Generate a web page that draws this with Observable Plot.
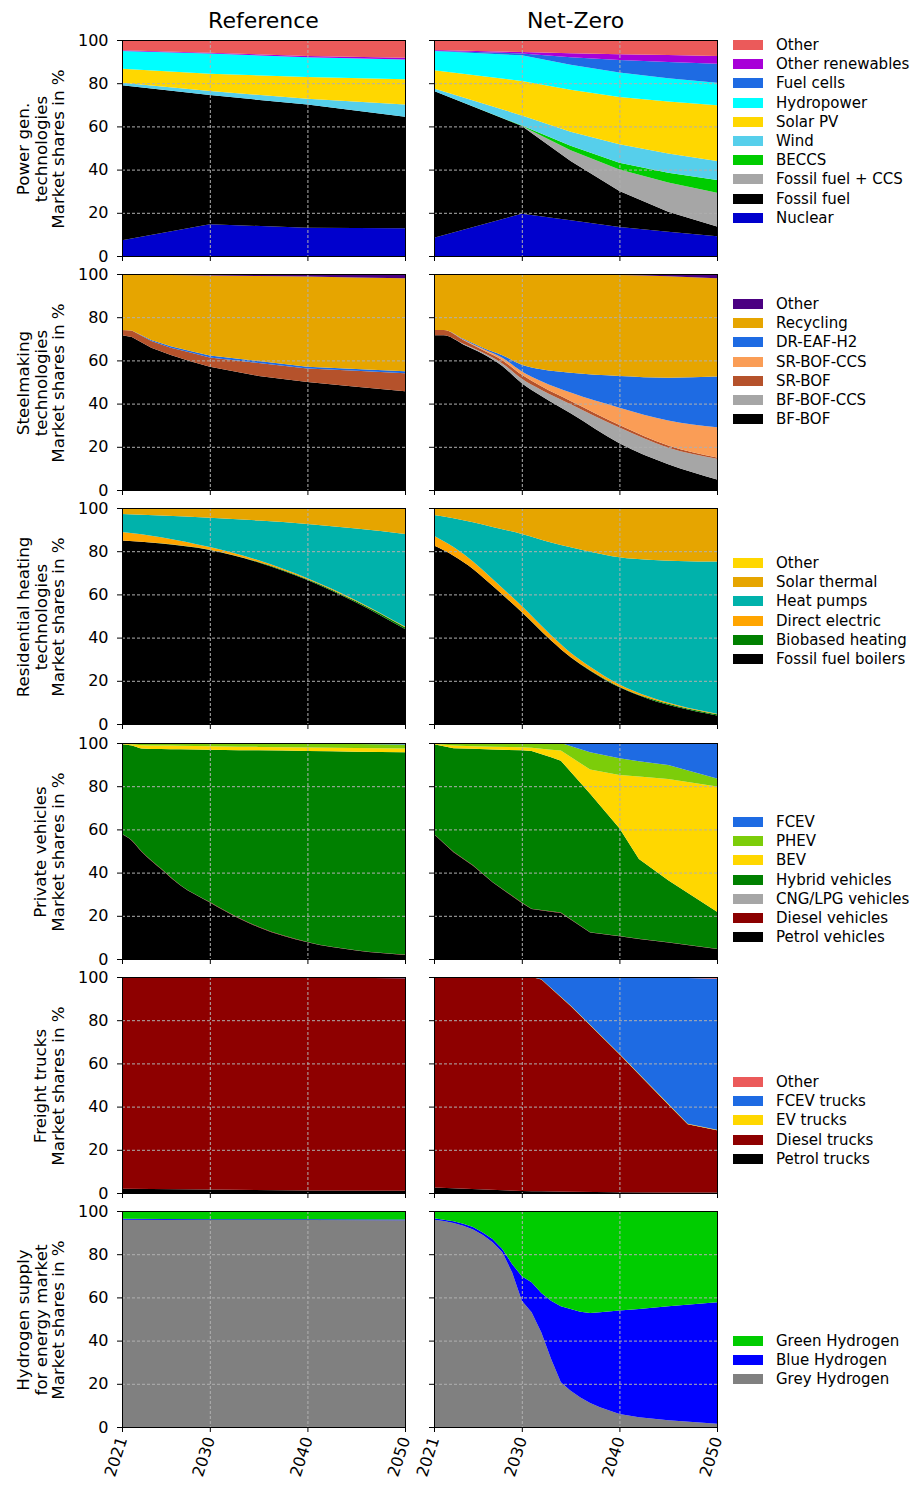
<!DOCTYPE html>
<html>
<head>
<meta charset="utf-8">
<script src="https://cdn.jsdelivr.net/npm/d3@7"></script>
<script src="https://cdn.jsdelivr.net/npm/@observablehq/plot@0.6"></script>
<style>
  body { margin: 0; background: #fff; font-family: "DejaVu Sans", sans-serif; }
  #fig { position: relative; width: 916px; height: 1486px; overflow: hidden; background: #fff; }
  .abs { position: absolute; }
  .title { position: absolute; font-size: 22px; line-height: 22px; width: 300px; text-align: center; color: #000; }
  .ylab { position: absolute; font-size: 16.7px; line-height: 17.5px; text-align: center; white-space: nowrap; color: #000;
          transform: translate(-50%, -50%) rotate(-90deg); }
  .sw { position: absolute; width: 30px; height: 10px; }
  .lt { position: absolute; font-size: 15px; line-height: 18px; white-space: nowrap; color: #000; }
</style>
</head>
<body>
<div id="fig"></div>
<script>
// ---------------- DATA ----------------
const xTicks = [2021, 2030, 2040, 2050];
const yTicks = [0, 20, 40, 60, 80, 100];
const scenarioTitles = ["Reference", "Net-Zero"];

// Power generation (stack order bottom -> top)
const powerCats = ["Nuclear", "Fossil fuel", "Fossil fuel + CCS", "BECCS", "Wind", "Solar PV", "Hydropower", "Fuel cells", "Other renewables", "Other"];
const powerColors = ["#0000cd", "#000000", "#a6a6a6", "#00cc00", "#56cfeb", "#ffd700", "#00ffff", "#1e6be3", "#a800d8", "#eb5a5a"];
const powerRefYears = [2021, 2030, 2040, 2050];
const powerRefValues = [
  [7.3, 14.7, 13.1, 12.8],
  [71.7, 59.8, 57.0, 51.7],
  [0, 0, 0, 0],
  [0, 0, 0, 0],
  [1.2, 1.9, 2.7, 5.6],
  [6.5, 8.0, 10.1, 11.7],
  [8.2, 9.4, 9.1, 9.2],
  [0, 0, 0, 0],
  [0.3, 0.3, 0.6, 0.8],
  [4.8, 5.9, 7.4, 8.2]
];
const powerNzYears = [2021, 2030, 2035, 2040, 2045, 2050];
const powerNzValues = [
  [8.5, 19.6, 16.5, 13.4, 11.2, 9.1],
  [67.9, 40.6, 27.5, 16.7, 9.3, 4.5],
  [0, 0, 5.0, 10.0, 13.5, 15.7],
  [0, 0.2, 2.0, 3.1, 4.5, 5.9],
  [1.1, 4.7, 6.5, 8.5, 9.0, 8.8],
  [8.5, 15.9, 19.5, 21.9, 24.0, 25.8],
  [8.9, 11.9, 11.5, 11.3, 10.8, 10.4],
  [0.1, 0.9, 3.5, 5.8, 7.5, 8.8],
  [0.4, 0.6, 1.9, 2.7, 3.2, 3.6],
  [4.6, 5.6, 6.1, 6.6, 7.0, 7.4]
];

// Steelmaking
const steelCats = ["BF-BOF", "BF-BOF-CCS", "SR-BOF", "SR-BOF-CCS", "DR-EAF-H2", "Recycling", "Other"];
const steelColors = ["#000000", "#a6a6a6", "#b5522b", "#fa9d56", "#1e6be3", "#e6a500", "#4b0082"];
const steelRefYears = [2021, 2022, 2024, 2026, 2028, 2030, 2035, 2040, 2045, 2050];
const steelRefValues = [
  [71.6, 70.8, 65.9, 62.5, 59.6, 57.1, 52.8, 50.0, 47.8, 45.7],
  [0, 0, 0, 0, 0, 0, 0, 0, 0, 0],
  [2.5, 3.1, 3.1, 3.4, 4.0, 4.3, 6.0, 6.3, 7.4, 8.3],
  [0, 0, 0, 0, 0, 0, 0, 0, 0, 0],
  [0, 0, 0.4, 0.6, 0.8, 0.9, 0.9, 0.8, 0.8, 1.0],
  [25.9, 25.9, 30.2, 33.0, 35.0, 37.0, 39.4, 41.7, 42.4, 43.0],
  [0, 0.2, 0.4, 0.5, 0.6, 0.7, 0.9, 1.2, 1.6, 2.0]
];
const steelNzYears = [2021, 2022, 2024, 2026, 2028, 2030, 2032, 2035, 2040, 2045, 2050];
const steelNzValues = [
  [71.6, 71.6, 67.4, 63.1, 57.4, 49.4, 43.5, 35.5, 21.6, 11.9, 4.9],
  [0, 0, 0.3, 0.5, 1.2, 2.1, 2.8, 4.2, 7.3, 7.7, 9.6],
  [2.5, 2.5, 1.8, 1.2, 1.5, 1.8, 1.7, 1.5, 1.2, 1.0, 0.5],
  [0, 0, 0.2, 0.6, 1.1, 1.6, 2.4, 3.9, 8.0, 11.6, 14.1],
  [0, 0, 0.3, 0.5, 1.2, 3.1, 5.5, 9.2, 14.7, 19.8, 23.4],
  [25.9, 25.9, 30.0, 34.1, 37.6, 42.0, 44.1, 45.6, 46.7, 47.0, 45.5],
  [0, 0, 0, 0, 0, 0, 0, 0.1, 0.5, 1.0, 2.0]
];

// Residential heating
const heatCats = ["Fossil fuel boilers", "Biobased heating", "Direct electric", "Heat pumps", "Solar thermal", "Other"];
const heatColors = ["#000000", "#008000", "#ffa500", "#00b2ab", "#e6a500", "#ffd700"];
const heatRefYears = [2021, 2025, 2030, 2035, 2040, 2045, 2050];
const heatRefValues = [
  [84.9, 83.6, 80.6, 74.8, 66.7, 56.3, 44.0],
  [0.1, 0.1, 0.1, 0.2, 0.3, 0.5, 0.8],
  [3.9, 2.8, 1.2, 0.8, 0.5, 0.4, 0.3],
  [8.3, 10.0, 13.6, 18.4, 25.1, 33.3, 42.9],
  [2.8, 3.5, 4.5, 5.8, 7.4, 9.5, 12.0],
  [0, 0, 0, 0, 0, 0, 0]
];
const heatNzYears = [2021, 2023, 2025, 2027, 2030, 2033, 2035, 2037, 2040, 2043, 2046, 2050];
const heatNzValues = [
  [82.6, 77.9, 71.8, 64.0, 51.7, 38.6, 30.9, 24.7, 17.0, 11.6, 7.7, 3.9],
  [0, 0, 0, 0, 0.1, 0.1, 0.1, 0.2, 0.3, 0.4, 0.5, 0.6],
  [4.6, 4.0, 3.4, 3.1, 2.8, 2.4, 2.0, 1.6, 1.0, 0.7, 0.5, 0.3],
  [9.6, 13.4, 18.2, 24.1, 33.4, 42.9, 48.8, 53.3, 58.9, 63.3, 66.8, 70.4],
  [3.2, 4.7, 6.6, 8.8, 12.0, 16.0, 18.2, 20.2, 22.8, 24.0, 24.5, 24.8],
  [0, 0, 0, 0, 0, 0, 0, 0, 0, 0, 0, 0]
];

// Private vehicles
const carCats = ["Petrol vehicles", "Diesel vehicles", "CNG/LPG vehicles", "Hybrid vehicles", "BEV", "PHEV", "FCEV"];
const carColors = ["#000000", "#8b0000", "#a6a6a6", "#008000", "#ffd700", "#7ccd0a", "#1e6be3"];
const carRefYears = [2021, 2022, 2023, 2025, 2027, 2030, 2033, 2035, 2040, 2045, 2050];
const carRefValues = [
  [57.7, 54.8, 49.7, 41.7, 34.0, 26.2, 18.8, 14.7, 7.7, 3.9, 1.9],
  [0.2, 0.2, 0.2, 0.2, 0.2, 0.2, 0.2, 0.2, 0.2, 0.2, 0.2],
  [0, 0, 0, 0, 0, 0, 0, 0, 0, 0, 0],
  [41.5, 43.8, 47.6, 55.3, 62.9, 70.5, 77.7, 81.7, 88.4, 91.9, 93.6],
  [0.3, 0.6, 1.5, 1.6, 1.6, 1.6, 1.6, 1.6, 1.6, 1.7, 1.7],
  [0.3, 0.6, 1.0, 1.2, 1.3, 1.5, 1.6, 1.7, 1.8, 1.8, 1.9],
  [0, 0, 0, 0, 0, 0, 0.1, 0.1, 0.3, 0.5, 0.7]
];
const carNzYears = [2021, 2023, 2025, 2027, 2030, 2031, 2033, 2034, 2037, 2040, 2042, 2045, 2050];
const carNzValues = [
  [57.7, 49.4, 43.2, 35.5, 25.9, 23.1, 21.9, 21.3, 12.3, 10.5, 9.3, 7.6, 4.6],
  [0.2, 0.2, 0.2, 0.2, 0.2, 0.2, 0.2, 0.2, 0.1, 0.1, 0.1, 0.1, 0.1],
  [0, 0, 0, 0, 0, 0, 0, 0, 0, 0, 0, 0, 0],
  [41.5, 48.0, 53.9, 61.3, 70.5, 73.0, 71.3, 70.3, 64.1, 49.9, 36.9, 28.8, 17.2],
  [0.3, 1.2, 1.2, 1.3, 1.4, 1.5, 3.5, 4.7, 11.2, 24.7, 38.2, 46.8, 58.0],
  [0.3, 1.2, 1.5, 1.7, 2.0, 2.2, 3.1, 3.5, 8.0, 7.7, 7.0, 6.5, 3.7],
  [0, 0, 0, 0, 0, 0, 0, 0, 4.3, 7.1, 8.5, 10.2, 16.4]
];

// Freight trucks
const truckCats = ["Petrol trucks", "Diesel trucks", "EV trucks", "FCEV trucks", "Other"];
const truckColors = ["#000000", "#8e0000", "#ffd700", "#1e6be3", "#eb5a5a"];
const truckRefYears = [2021, 2030, 2040, 2050];
const truckRefValues = [
  [2.0, 1.6, 1.2, 1.0],
  [98.0, 98.4, 98.6, 98.4],
  [0, 0, 0, 0],
  [0, 0, 0.1, 0.2],
  [0, 0, 0.1, 0.4]
];
const truckNzYears = [2021, 2030, 2031, 2032, 2035, 2040, 2045, 2047, 2050];
const truckNzValues = [
  [2.5, 0.9, 0.8, 0.8, 0.6, 0.3, 0.2, 0.2, 0.2],
  [97.5, 99.1, 99.2, 98.1, 86.0, 63.9, 40.8, 31.6, 28.8],
  [0, 0, 0, 0.1, 0.2, 0.3, 0.3, 0.3, 0.3],
  [0, 0, 0, 1.0, 13.2, 35.4, 58.4, 67.4, 69.9],
  [0, 0, 0, 0, 0, 0.1, 0.3, 0.5, 0.8]
];

// Hydrogen supply
const h2Cats = ["Grey Hydrogen", "Blue Hydrogen", "Green Hydrogen"];
const h2Colors = ["#808080", "#0000ff", "#00cc00"];
const h2RefYears = [2021, 2030, 2040, 2050];
const h2RefValues = [
  [96.0, 95.8, 95.8, 95.7],
  [0.4, 0.4, 0.4, 0.4],
  [3.6, 3.8, 3.8, 3.9]
];
const h2NzYears = [2021, 2022, 2023, 2024, 2025, 2026, 2027, 2028, 2029, 2030, 2031, 2032, 2033, 2034, 2035, 2036, 2037, 2038, 2040, 2042, 2045, 2050];
const h2NzValues = [
  [96.0, 95.4, 94.4, 93.2, 91.4, 88.9, 85.5, 80.9, 71.6, 58.5, 53.1, 43.8, 31.5, 20.7, 16.8, 13.7, 11.1, 9.1, 6.0, 4.5, 3.1, 1.5],
  [0.6, 0.6, 0.8, 0.9, 1.2, 1.2, 1.5, 1.5, 3.9, 11.3, 13.9, 18.2, 27.0, 35.2, 37.8, 39.7, 41.7, 44.0, 47.9, 50.1, 52.8, 56.2],
  [3.4, 4.0, 4.8, 5.9, 7.4, 9.9, 13.0, 17.6, 24.5, 30.2, 33.0, 38.0, 41.5, 44.1, 45.4, 46.6, 47.2, 46.9, 46.1, 45.4, 44.1, 42.3]
];

const yLabelLines = [
  ["Power gen.", "technologies", "Market shares in %"],
  ["Steelmaking", "technologies", "Market shares in %"],
  ["Residential heating", "technologies", "Market shares in %"],
  ["Private vehicles", "Market shares in %"],
  ["Freight trucks", "Market shares in %"],
  ["Hydrogen supply", "for energy market", "Market shares in %"]
];

// ---------------- LAYOUT ----------------
const rowsSpec = [
  {cats: powerCats, colors: powerColors, ref: [powerRefYears, powerRefValues], nz: [powerNzYears, powerNzValues]},
  {cats: steelCats, colors: steelColors, ref: [steelRefYears, steelRefValues], nz: [steelNzYears, steelNzValues], curveNz: "monotone-x"},
  {cats: heatCats, colors: heatColors, ref: [heatRefYears, heatRefValues], nz: [heatNzYears, heatNzValues], curveRef: "monotone-x", curveNz: "monotone-x"},
  {cats: carCats, colors: carColors, ref: [carRefYears, carRefValues], nz: [carNzYears, carNzValues], curveRef: "monotone-x"},
  {cats: truckCats, colors: truckColors, ref: [truckRefYears, truckRefValues], nz: [truckNzYears, truckNzValues]},
  {cats: h2Cats, colors: h2Colors, ref: [h2RefYears, h2RefValues], nz: [h2NzYears, h2NzValues]}
];
const rowTops = [40, 274, 508, 743, 977, 1211];
const legendFirst = [45, 304, 563, 822, 1082, 1341];
const colLefts = [72, 384];
const W = 283, H = 216, ML = 50, MR = 12, MT = 10;

const fig = document.getElementById("fig");

function panel(years, values, cats, colors, showY, showX, curve) {
  const rows = [];
  values.forEach((series, i) => series.forEach((v, j) => rows.push({year: years[j], cat: cats[i], share: v})));
  const MB = showX ? 70 : 12;
  const grid = {stroke: "#b0b0b0", strokeOpacity: 1, strokeWidth: 1, strokeDasharray: "3,2"};
  return Plot.plot({
    width: ML + W + MR,
    height: MT + H + MB,
    marginLeft: ML, marginRight: MR, marginTop: MT, marginBottom: MB,
    style: {background: "transparent", fontFamily: "DejaVu Sans, sans-serif", fontSize: "16px", color: "#000", overflow: "visible"},
    x: {domain: [2021, 2050]},
    y: {domain: [0, 100]},
    color: {domain: cats, range: colors},
    marks: [
      Plot.areaY(rows, {x: "year", y: "share", z: "cat", fill: "cat", order: cats, curve: curve || "linear"}),
      Plot.gridX([2030, 2040], grid),
      Plot.gridY([20, 40, 60, 80], grid),
      Plot.frame({stroke: "#000", strokeWidth: 1}),
      Plot.axisY(yTicks, {tickSize: 5, tickPadding: 9, label: null, stroke: "#000",
        tickFormat: showY ? d3.format("d") : () => ""}),
      Plot.axisX(xTicks, showX
        ? {tickSize: 5, tickPadding: 5, label: null, tickFormat: d3.format("d"), tickRotate: -72, textAnchor: "end"}
        : {tickSize: 5, label: null, tickFormat: () => ""})
    ]
  });
}

rowsSpec.forEach((spec, r) => {
  ["ref", "nz"].forEach((key, c) => {
    const [years, values] = spec[key];
    const curve = c === 0 ? spec.curveRef : spec.curveNz;
    const svg = panel(years, values, spec.cats, spec.colors, c === 0, r === rowsSpec.length - 1, curve);
    const holder = document.createElement("div");
    holder.className = "abs";
    holder.style.left = colLefts[c] + "px";
    holder.style.top = (rowTops[r] - MT) + "px";
    holder.appendChild(svg);
    fig.appendChild(holder);
  });

  // y label
  const lines = yLabelLines[r];
  const lab = document.createElement("div");
  lab.className = "ylab";
  lab.innerHTML = lines.join("<br>");
  lab.style.left = (58 - (lines.length - 1) * 17.5 / 2) + "px";
  lab.style.top = (rowTops[r] + 0.5 + H / 2) + "px";
  fig.appendChild(lab);

  // legend (top -> bottom = reverse stack order)
  const labels = spec.cats.slice().reverse();
  const cols = spec.colors.slice().reverse();
  labels.forEach((name, i) => {
    const cy = legendFirst[r] + 19.2 * i;
    const sw = document.createElement("div");
    sw.className = "sw";
    sw.style.left = "733px";
    sw.style.top = (cy - 5) + "px";
    sw.style.background = cols[i];
    fig.appendChild(sw);
    const t = document.createElement("div");
    t.className = "lt";
    t.style.left = "776px";
    t.style.top = (cy - 9) + "px";
    t.textContent = name;
    fig.appendChild(t);
  });
});

scenarioTitles.forEach((name, c) => {
  const t = document.createElement("div");
  t.className = "title";
  t.textContent = name;
  t.style.left = (colLefts[c] + ML + W / 2 - 150) + "px";
  t.style.top = "10px";
  fig.appendChild(t);
});
</script>
</body>
</html>
